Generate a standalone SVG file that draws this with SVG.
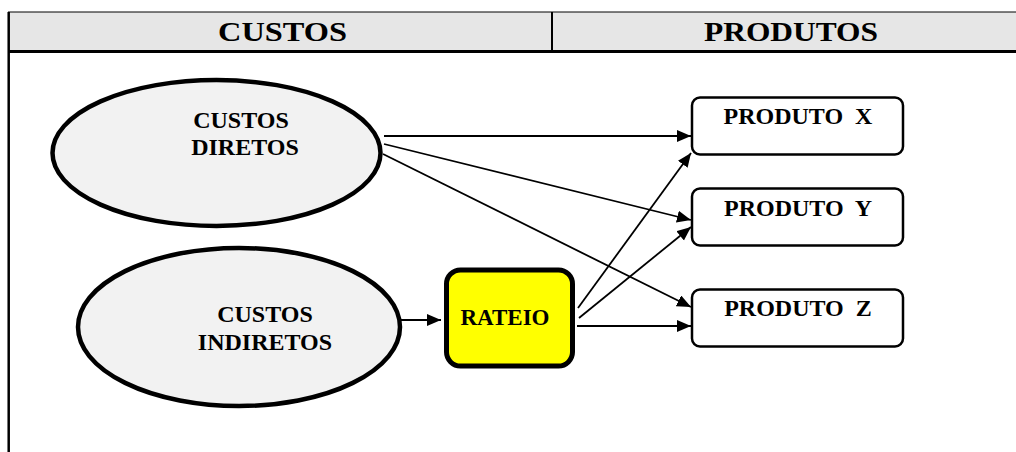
<svg xmlns="http://www.w3.org/2000/svg" width="1016" height="452" viewBox="0 0 1016 452">
<style>
text{font-family:"Liberation Serif","Times New Roman",serif;font-weight:bold;fill:#000;text-anchor:middle;white-space:pre}
.hdr{font-size:27px}
.lbl{font-size:24px}
.oval{fill:#f2f2f2;stroke:#000;stroke-width:4.5}
.prod{fill:#fff;stroke:#000;stroke-width:2.5}
.conn line{stroke:#000;stroke-width:1.8;marker-end:url(#arr)}
</style>
<defs>
<marker id="arr" markerUnits="userSpaceOnUse" markerWidth="15" markerHeight="13" refX="14" refY="6" orient="auto">
<path d="M0,0 L14,6 L0,12 z" fill="#000"/>
</marker>
</defs>
<rect width="1016" height="452" fill="#fff"/>
<g id="header">
<rect x="8" y="12" width="1008" height="39" fill="#e6e6e6"/>
<line x1="8" y1="12" x2="1016" y2="12" stroke="#000" stroke-width="1"/>
<line x1="8" y1="51.5" x2="1016" y2="51.5" stroke="#000" stroke-width="2.8"/>
<line x1="552" y1="12" x2="552" y2="51" stroke="#000" stroke-width="2"/>
<line x1="8.7" y1="12" x2="8.7" y2="452" stroke="#000" stroke-width="2.5"/>
<text class="hdr" x="282.5" y="40.5" textLength="129" lengthAdjust="spacingAndGlyphs">CUSTOS</text>
<text class="hdr" x="791" y="40.5" textLength="174" lengthAdjust="spacingAndGlyphs">PRODUTOS</text>
</g>
<g id="custos-diretos">
<ellipse class="oval" cx="216.5" cy="153" rx="164" ry="73"/>
<text class="lbl" x="241" y="128">CUSTOS</text>
<text class="lbl" x="245" y="155">DIRETOS</text>
</g>
<g id="custos-indiretos">
<ellipse class="oval" cx="239" cy="327" rx="161" ry="79"/>
<text class="lbl" x="265" y="321.5">CUSTOS</text>
<text class="lbl" x="265" y="349.5">INDIRETOS</text>
</g>
<g id="rateio">
<rect x="446.5" y="270" width="126" height="96" rx="14" fill="#ffff00" stroke="#000" stroke-width="5"/>
<text x="505" y="324.5" style="font-size:23px">RATEIO</text>
</g>
<g id="produto-x">
<rect class="prod" x="692" y="97.5" width="211" height="57" rx="8"/>
<text class="lbl" x="798" y="124.3">PRODUTO  X</text>
</g>
<g id="produto-y">
<rect class="prod" x="692" y="188.5" width="211" height="57" rx="8"/>
<text class="lbl" x="798" y="216">PRODUTO  Y</text>
</g>
<g id="produto-z">
<rect class="prod" x="692" y="289.5" width="211" height="57" rx="8"/>
<text class="lbl" x="798" y="316">PRODUTO  Z</text>
</g>
<g class="conn" id="connectors">
<line x1="384" y1="136" x2="691" y2="136"/>
<line x1="384" y1="144" x2="691" y2="220"/>
<line x1="383" y1="154" x2="691" y2="307"/>
<line x1="399" y1="320" x2="441" y2="320"/>
<line x1="578" y1="308" x2="691" y2="153"/>
<line x1="579" y1="318" x2="691" y2="227"/>
<line x1="577" y1="326" x2="691" y2="326"/>
</g>
</svg>
